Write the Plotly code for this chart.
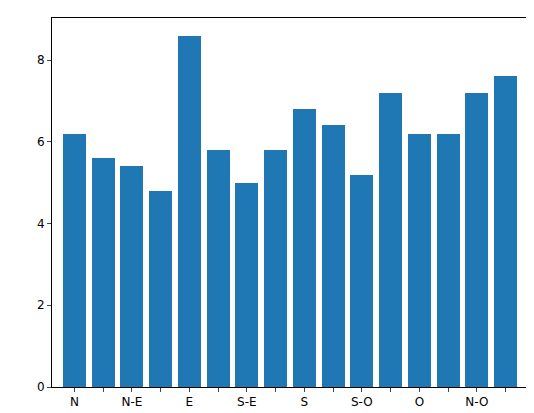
import plotly.graph_objects as go

directions = ["N", "", "N-E", "", "E", "", "S-E", "", "S", "", "S-O", "", "O", "", "N-O", ""]
values = [6.2, 5.6, 5.4, 4.8, 8.6, 5.8, 5.0, 5.8, 6.8, 6.4, 5.2, 7.2, 6.2, 6.2, 7.2, 7.6]
positions = list(range(len(values)))

fig = go.Figure(go.Bar(x=positions, y=values, width=0.8, marker_color="#1f77b4", marker_line_width=0))

fig.update_xaxes(
    range=[-0.78, 15.78], tickvals=positions, ticktext=directions,
    ticks="outside", ticklen=4, showgrid=False, zeroline=False, automargin=False,
    showline=True, linecolor="black", mirror=True,
)
fig.update_yaxes(
    range=[0, 9.03], tickvals=[0, 2, 4, 6, 8],
    ticks="outside", ticklen=4, showgrid=False, zeroline=False, automargin=False,
    showline=True, linecolor="black", mirror=True,
)
fig.update_layout(
    width=534, height=413, margin=dict(l=44, r=14, t=10, b=34),
    plot_bgcolor="white", paper_bgcolor="white",
    font=dict(family="DejaVu Sans", size=12, color="black"),
    bargap=0, showlegend=False,
)
fig.write_html("out.html")
